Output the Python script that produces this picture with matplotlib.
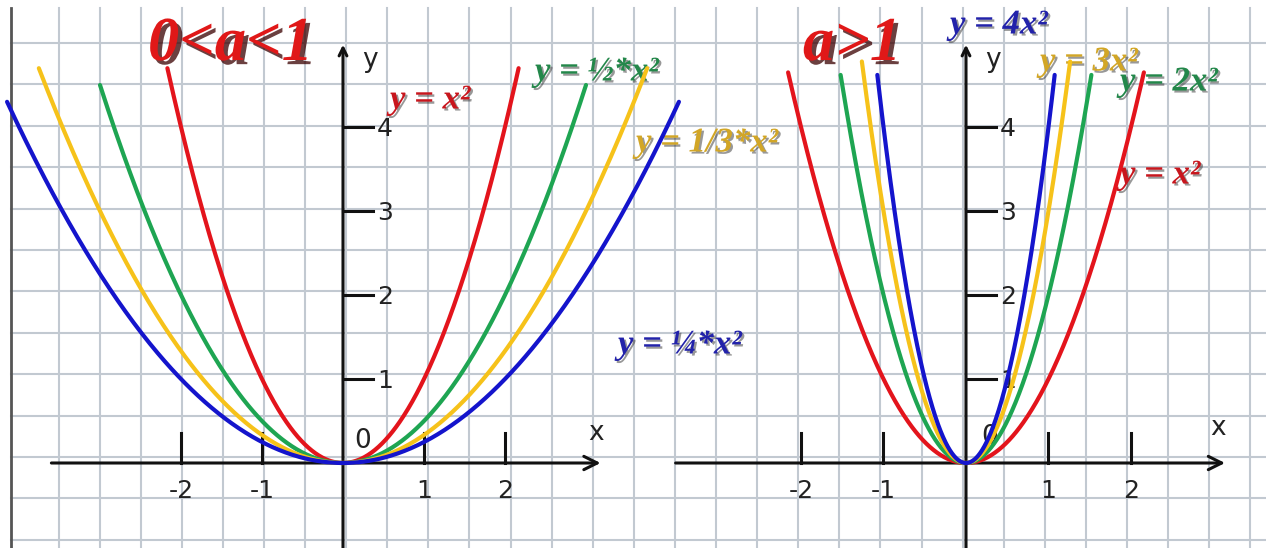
import numpy as np
import matplotlib.pyplot as plt
import matplotlib.patheffects as pe

W, H = 1266, 548

# y = a*x^2 families, and how high each curve is drawn
left_coefs = [1, 1/2, 1/3, 1/4]
left_tops = [4.7, 4.5, 4.7, 4.3]
left_labels = ['y = x²', 'y = ½*x²', 'y = 1/3*x²', 'y = ¼*x²']

right_coefs = [1, 2, 3, 4]
right_tops = [4.65, 4.62, 4.78, 4.62]
right_labels = ['y = x²', 'y = 2x²', 'y = 3x²', 'y = 4x²']

curve_colors = ['#e3141c', '#1ea552', '#f6c21a', '#1414cc']
text_colors = ['#c8161d', '#23874a', '#d2a626', '#2222aa']

x_ticks = [-2, -1, 1, 2]
y_ticks = [1, 2, 3, 4]

fig = plt.figure(figsize=(W / 100, H / 100), dpi=100)
fig.patch.set_facecolor('white')

# squared paper background, in pixel units
bg = fig.add_axes([0, 0, 1, 1])
bg.set_xlim(0, W)
bg.set_ylim(H, 0)
bg.axis('off')
grid_c = '#c2c9d1'
for gx in np.arange(58.5, 1258, 41.1):
    bg.plot([gx, gx], [8, H], color=grid_c, lw=1.5, zorder=0)
for gy in np.arange(43, H, 41.4):
    bg.plot([11, W], [gy, gy], color=grid_c, lw=1.5, zorder=0)
bg.plot([11, 11], [8, H], color='#555555', lw=2, zorder=1)

shadow = [pe.SimplePatchShadow(offset=(1.5, -1.5), shadow_rgbFace='#333333', alpha=0.5), pe.Normal()]
title_fx = [pe.SimplePatchShadow(offset=(3, -3), shadow_rgbFace='#3a0000', alpha=0.75), pe.Normal()]


def panel(ox, oy, ux, uy, coefs, tops, y_top, x_lo, x_hi):
    ax = fig.add_axes([0, 0, 1, 1])
    ax.set_xlim(-ox / ux, (W - ox) / ux)
    ax.set_ylim(-(H - oy) / uy, oy / uy)
    ax.axis('off')

    # axes with arrow heads
    ax.annotate('', xy=(x_hi, 0), xytext=(x_lo, 0),
                arrowprops=dict(arrowstyle='->', color='#111111', lw=2.2,
                                mutation_scale=24, shrinkA=0, shrinkB=0))
    ax.annotate('', xy=(0, y_top), xytext=(0, -(H - oy) / uy - 0.1),
                arrowprops=dict(arrowstyle='->', color='#111111', lw=2.2,
                                mutation_scale=14, shrinkA=0, shrinkB=0))

    tx = 30 / ux
    ty = 30 / uy
    for t in x_ticks:
        ax.plot([t, t], [0, ty], color='#111111', lw=2.2)
        ax.text(t, -0.33, f'{t}', ha='center', va='center', fontsize=18, color='#222222')
    for t in y_ticks:
        ax.plot([0, tx], [t, t], color='#111111', lw=2.2)
        ax.text(tx + 0.05, t - 0.02, f'{t}', ha='left', va='center', fontsize=18, color='#222222')

    for a, top, c in zip(coefs, tops, curve_colors):
        xm = np.sqrt(top / a)
        xs = np.linspace(-xm, xm, 500)
        ax.plot(xs, a * xs ** 2, color=c, lw=3, solid_capstyle='round', zorder=3)
    return ax


axl = panel(343, 463, 81, 84, left_coefs, left_tops, 4.98, -3.6, 3.18)
axr = panel(966, 463, 82.5, 84, right_coefs, right_tops, 4.98, -3.52, 3.14)

# axis letters and origin
for px, py, s in [(363, 441, '0'), (596, 433, 'x'), (370, 60, 'y'),
                  (990, 437, '0'), (1218, 428, 'x'), (993, 60, 'y')]:
    bg.text(px, py, s, ha='center', va='center', fontsize=19, color='#222222', zorder=2)

# titles
bg.text(148, 45, '0<a<1', ha='left', va='center', fontsize=45, color='#e01818',
        fontfamily='Liberation Serif', fontweight='bold', fontstyle='italic',
        path_effects=title_fx, zorder=5)
bg.text(803, 45, 'a>1', ha='left', va='center', fontsize=45, color='#e01818',
        fontfamily='Liberation Serif', fontweight='bold', fontstyle='italic',
        path_effects=title_fx, zorder=5)

# curve labels
left_pos = [(390, 100), (535, 72), (636, 143), (618, 345)]
right_pos = [(1120, 175), (1120, 82), (1040, 62), (950, 25)]
for labels, pos in [(left_labels, left_pos), (right_labels, right_pos)]:
    for s, (px, py), c in zip(labels, pos, text_colors):
        bg.text(px, py, s, ha='left', va='center', fontsize=25, color=c,
                fontfamily='Liberation Serif', fontweight='bold', fontstyle='italic',
                path_effects=shadow, zorder=6)

fig.savefig('out.png', dpi=100)
